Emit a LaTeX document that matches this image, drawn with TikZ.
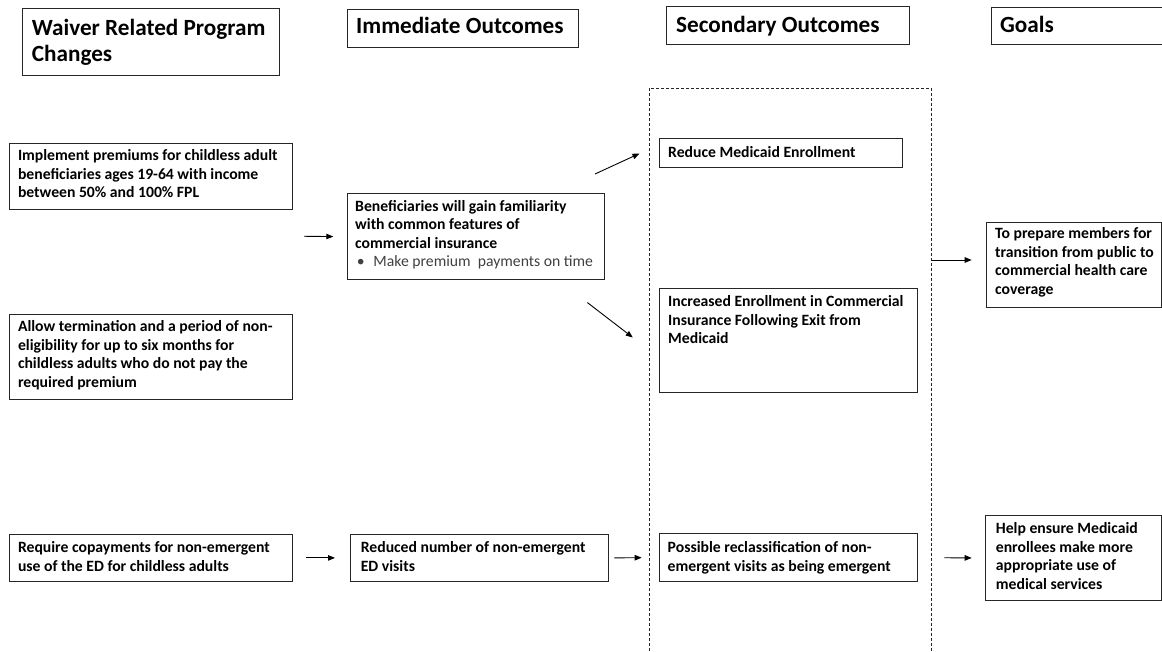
\documentclass[tikz,border=0pt]{standalone}
\usepackage{fontspec}
\setmainfont{Carlito}
\usetikzlibrary{arrows.meta}
\definecolor{bordc}{HTML}{262626}
\definecolor{bulc}{HTML}{404040}
\tikzset{
  box/.style={draw=bordc, line width=1.1pt, inner sep=0pt, anchor=north west},
  dbox/.style={draw=bordc, line width=0.8pt, dash pattern=on 3pt off 2pt},
  btxt/.style={inner sep=0pt, anchor=north west, align=left, font=\fontsize{15.7}{18.5}\selectfont\bfseries},
  htxt/.style={inner sep=0pt, anchor=north west, align=left, font=\fontsize{23.2}{26}\selectfont\bfseries},
  arr/.style={draw=black, line width=0.9pt, -{Triangle[length=7pt,width=5.5pt]}},
}
\begin{document}
\begin{tikzpicture}[x=1pt,y=-1pt]
\useasboundingbox (0,0) rectangle (1162,651);
\fill[white] (0,0) rectangle (1162,651);

% header boxes
\node[box, minimum width=257.6pt, minimum height=66.7pt] (H1) at (21.7,8.3) {};
\node[box, minimum width=231.3pt, minimum height=37.7pt] (H2) at (346.7,9.3) {};
\node[box, minimum width=243.6pt, minimum height=38.3pt] (H3) at (665.7,6) {};
\node[box, minimum width=170.5pt, minimum height=37.3pt] (H4) at (991,7) {};
\node[htxt] (H1t) at (31.7,16.8) {\strut Waiver Related Program\\Changes};
\node[htxt] (H2t) at (356,15.1) {\strut Immediate Outcomes};
\node[htxt] (H3t) at (676,14.1) {\strut Secondary Outcomes};
\node[htxt] (H4t) at (1000,14.1) {\strut Goals};

% dashed secondary region
\draw[dbox] (649,651) -- (649,88.3) -- (931.7,88.3) -- (931.7,651);

% content boxes
\node[box, minimum width=283.1pt, minimum height=66.3pt] (A) at (8.7,142.7) {};
\node[box, minimum width=283.1pt, minimum height=85pt]   (B) at (8.7,314) {};
\node[box, minimum width=283.1pt, minimum height=46.7pt] (C) at (8.7,534) {};
\node[box, minimum width=257.6pt, minimum height=85.7pt] (D) at (346.7,193.3) {};
\node[box, minimum width=258pt,   minimum height=46.7pt] (E) at (350,534) {};
\node[box, minimum width=243pt,   minimum height=28.4pt] (F) at (659,138.3) {};
\node[box, minimum width=258pt,   minimum height=104pt]  (G) at (659,287.7) {};
\node[box, minimum width=258.3pt, minimum height=47.4pt] (H) at (659,533.3) {};
\node[box, minimum width=174.5pt, minimum height=85.6pt] (I) at (986,221.7) {};
\node[box, minimum width=176pt,   minimum height=85pt]   (J) at (985,515) {};

% texts
\node[btxt] (At) at (17.8,147.75) {\strut Implement premiums for childless adult\\beneficiaries ages 19-64 with income\\between 50\% and 100\% FPL};
\node[btxt] (Bt) at (17.8,318.75) {\strut Allow termination and a period of non-\\eligibility for up to six months for\\childless adults who do not pay the\\required premium};
\node[btxt] (Ct) at (17.8,539.75) {\strut Require copayments for non-emergent\\use of the ED for childless adults};
\node[btxt] (Dt) at (355,198.05) {\strut Beneficiaries will gain familiarity\\with common features of\\commercial insurance\\{\mdseries\color{bulc}\hspace{1.7pt}\makebox[16.6pt][l]{•}Make premium\ \ payments on time}};
\node[btxt] (Et) at (360.6,539.75) {\strut Reduced number of non-emergent\\ED visits};
\node[btxt] (Ft) at (668,144.05) {\strut Reduce Medicaid Enrollment};
\node[btxt] (Gt) at (668,293.75) {\strut Increased Enrollment in Commercial\\Insurance Following Exit from\\Medicaid};
\node[btxt] (Ht) at (667.5,539.75) {\strut Possible reclassification of non-\\emergent visits as being emergent};
\node[btxt] (It) at (995,225.35) {\strut To prepare members for\\transition from public to\\commercial health care\\coverage};
\node[btxt] (Jt) at (995.7,520.35) {\strut Help ensure Medicaid\\enrollees make more\\appropriate use of\\medical services};

% connectors
\coordinate (ab) at (292,236.15);
\draw[arr, shorten <=12pt, shorten >=13.4pt] (ab) -- (D.west);
\coordinate (df1) at (595,174);
\coordinate (df2) at (639.5,153.5);
\draw[arr] (df1) -- (df2);
\coordinate (dg1) at (587.3,302.5);
\coordinate (dg2) at (632.8,337.5);
\draw[arr] (dg1) -- (dg2);
\draw[arr, shorten <=13.2pt, shorten >=15pt] (C.east) -- (E.west);
\draw[arr, shorten <=5.3pt, shorten >=17.3pt] (E.east) -- (H.west);
\draw[arr, shorten <=26pt, shorten >=13.3pt] (H.east) -- (J.west);
\coordinate (dr) at (931.7,260);
\draw[arr, shorten >=14.3pt] (dr) -- (dr -| I.west);
\end{tikzpicture}
\end{document}
